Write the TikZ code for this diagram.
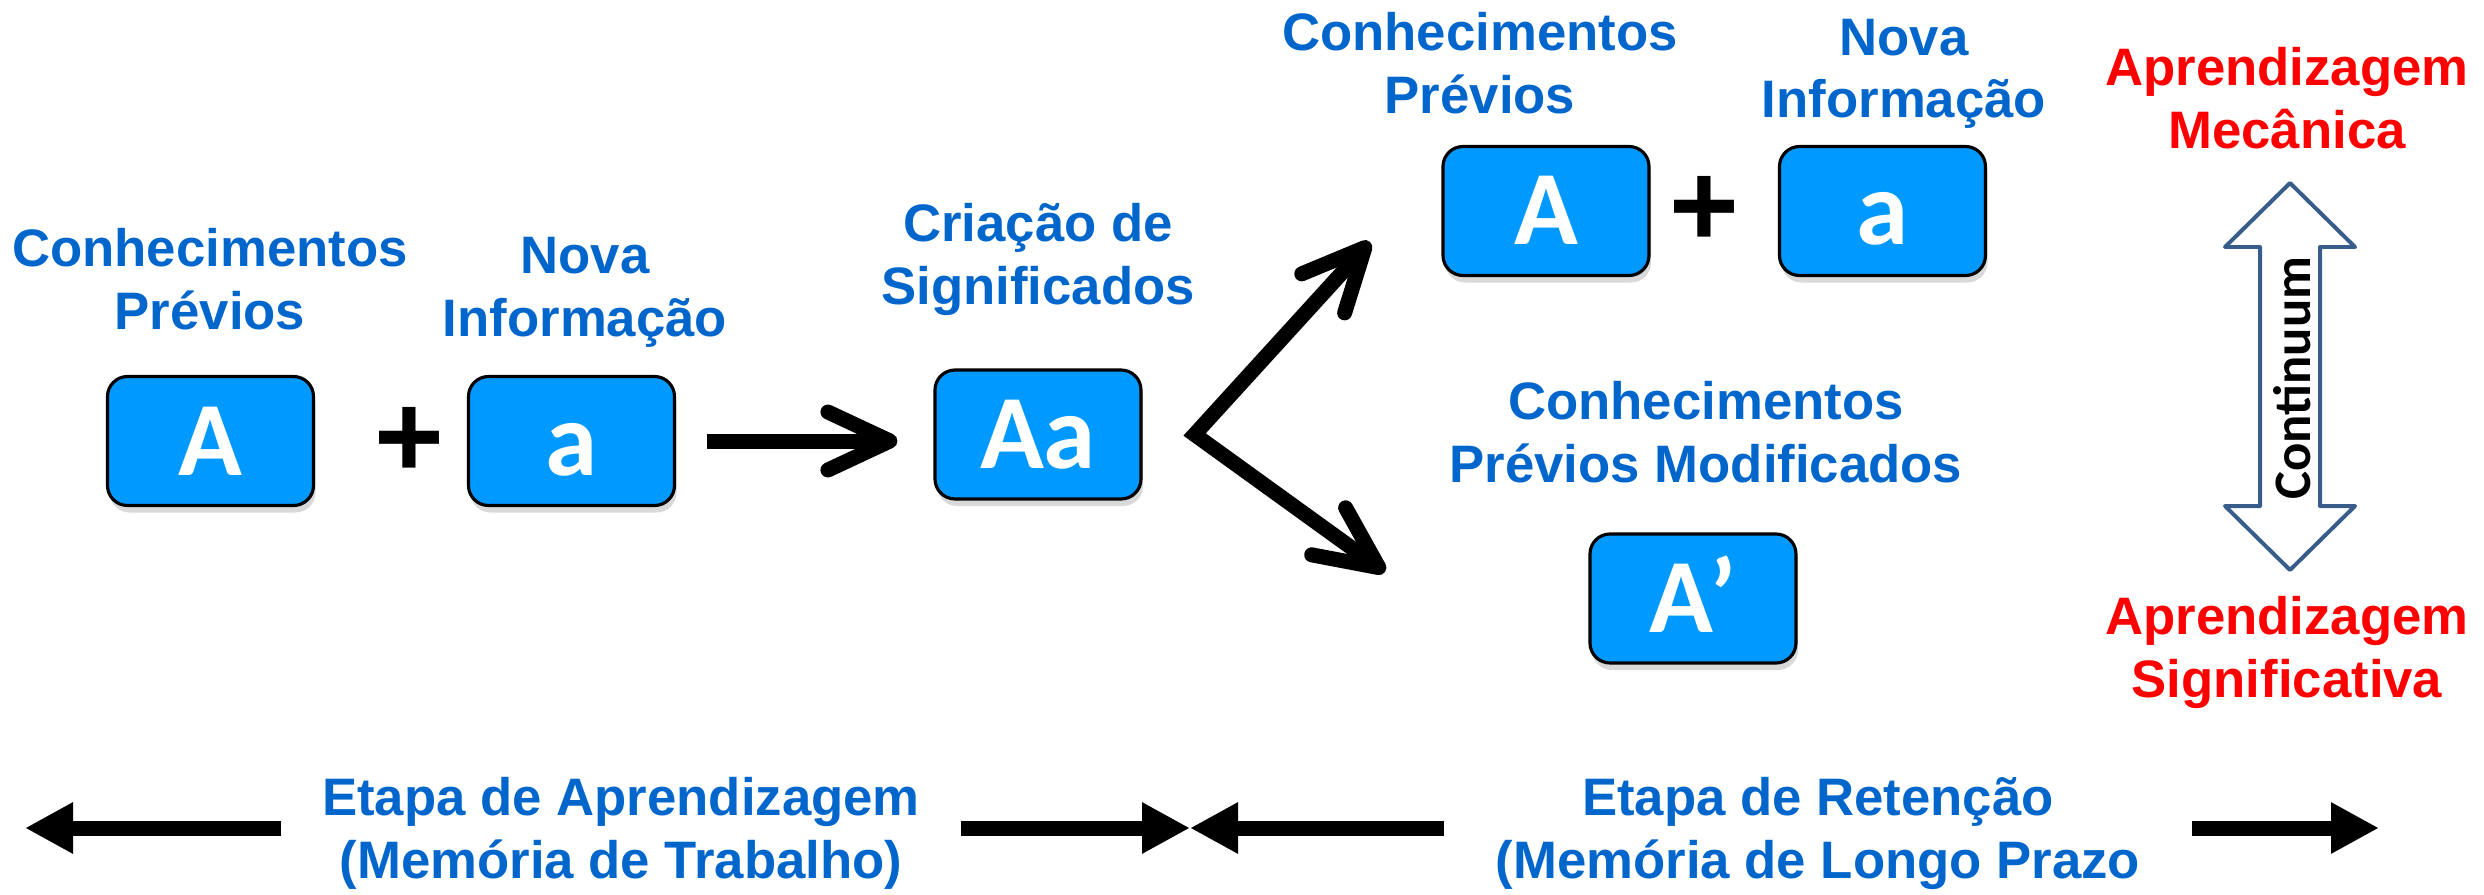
\documentclass[tikz,border=0pt]{standalone}
\usepackage{fontspec}
\setmainfont{Liberation Sans}
\newfontfamily\calibrifont{Carlito}
\usetikzlibrary{
    arrows.meta,
    calc,
    shadows
}
\definecolor{knowledge}{RGB}{0,102,204}
\definecolor{boxfill}{RGB}{0,153,255}
\definecolor{learning}{RGB}{255,0,0}
\definecolor{continuum}{RGB}{56,93,138}

\begin{document}
\begin{tikzpicture}[
    conceptbox/.style={draw=black, line width=0.9pt, fill=boxfill, rounded corners=0.2cm,
        minimum width=2.06cm, minimum height=1.29cm, inner sep=0pt,
        text=white, font=\calibrifont\bfseries\fontsize{30}{36}\selectfont,
        text height=0.68cm, text depth=0pt,
        drop shadow={shadow xshift=0.02cm, shadow yshift=-0.07cm, opacity=0.3}},
    bluelabel/.style={align=center, anchor=base, text=knowledge, inner sep=0pt,
        font=\bfseries\fontsize{15}{17.9}\selectfont},
    redlabel/.style={bluelabel, text=learning},
    plussign/.style={font=\bfseries\fontsize{34}{40}\selectfont, inner sep=0pt},
    barrow/.style={line width=0.15cm, line join=miter,
        -{Straight Barb[length=0.62cm, width=0.58cm, round]}},
    stagearrow/.style={line width=0.15cm, -{Triangle[length=0.48cm, width=0.48cm]}}
]
    \useasboundingbox (0,0) rectangle (24.84,8.94);

    % Learning step: A + a -> Aa
    \node[bluelabel] (prevL) at (2.10,5.65) {Conhecimentos\\Prévios};
    \node[bluelabel] (novaL) at (5.85,5.58) {Nova\\Informação};
    \node[conceptbox] (boxA) at (2.105,4.53) {A};
    \node[plussign] (plusL) at (4.09,4.52) {+};
    \node[conceptbox] (boxa) at (5.715,4.53) {a};

    \node[bluelabel] (criacao) at (10.38,5.90) {Criação de\\Significados};
    \node[conceptbox] (boxAa) at (10.38,4.595) {Aa};

    \draw[barrow, shorten <=0.31cm, shorten >=0.36cm] (boxa.east) -- (boxa.east -| boxAa.west);

    % Fork into the two outcomes
    \coordinate (fork) at ($(boxAa.east)+(0.52,0)$);
    \coordinate (upTip) at (13.70,6.52);
    \coordinate (dnTip) at (13.85,3.22);
    \draw[barrow, {Straight Barb[length=0.62cm, width=0.58cm, round]}-{Straight Barb[length=0.62cm, width=0.58cm, round]}]
        (upTip) -- (fork) -- (dnTip);

    % Outcome 1: A + a kept apart
    \node[bluelabel] (prevR) at (14.80,7.81) {Conhecimentos\\Prévios};
    \node[bluelabel] (novaR) at (19.04,7.76) {Nova\\Informação};
    \node[conceptbox] (boxAR) at (15.46,6.83) {A};
    \node[plussign] (plusR) at (17.04,6.83) {+};
    \node[conceptbox] (boxaR) at (18.825,6.83) {a};

    % Outcome 2: modified knowledge
    \node[bluelabel] (modif) at (17.06,4.12) {Conhecimentos\\Prévios Modificados};
    \node[conceptbox] (boxAp) at (16.93,2.955) {A’};

    % Continuum between the two kinds of learning
    \node[redlabel] (mecanica) at (22.87,7.46) {Aprendizagem\\Mecânica};
    \node[redlabel] (signif) at (22.87,1.97) {Aprendizagem\\Significativa};
    \draw[continuum, line width=0.04cm, line join=round]
        (22.90,7.11) -- (23.55,6.47) -- (23.20,6.47) -- (23.20,3.88) -- (23.55,3.88)
        -- (22.90,3.24) -- (22.25,3.88) -- (22.60,3.88) -- (22.60,6.47) -- (22.25,6.47) -- cycle;
    \node[rotate=90, font=\calibrifont\bfseries\fontsize{15}{18}\selectfont] (cont) at (22.92,5.16) {Continuum};

    % Stages at the bottom
    \coordinate (farLeft) at (0.25,0.66);
    \coordinate (midStage) at (11.90,0.66);
    \coordinate (farRight) at (23.79,0.66);
    \node[bluelabel, inner xsep=0.4cm] (etapaA) at (6.21,0.16) {Etapa de Aprendizagem\\(Memória de Trabalho)};
    \node[bluelabel, inner xsep=0.51cm] (etapaR) at (18.18,0.16) {Etapa de Retenção\\(Memória de Longo Prazo};
    \draw[stagearrow] (etapaA.west |- farLeft) -- (farLeft);
    \draw[stagearrow] (etapaA.east |- midStage) -- (midStage);
    \draw[stagearrow] (etapaR.west |- midStage) -- (midStage);
    \draw[stagearrow] (etapaR.east |- farRight) -- (farRight);
\end{tikzpicture}
\end{document}
